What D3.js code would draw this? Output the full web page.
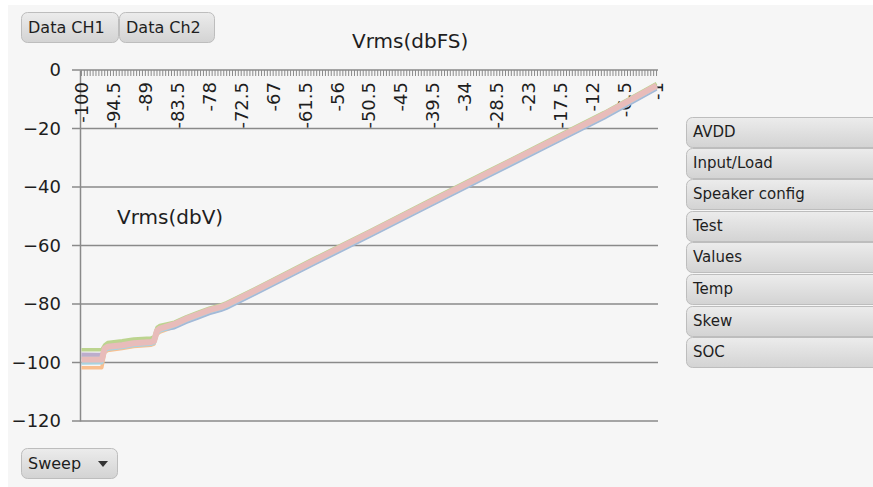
<!DOCTYPE html>
<html>
<head>
<meta charset="utf-8">
<script src="https://cdn.jsdelivr.net/npm/d3@7"></script>
<style>
  html, body { margin: 0; padding: 0; background: #ffffff; }
  svg { display: block; font-family: "DejaVu Sans", Verdana, sans-serif; }
</style>
</head>
<body>
<svg id="chart"></svg>
<script>
const WIDTH = 873;
const HEIGHT = 487;
const PLOT = {left: 80, right: 658, top: 70, bottom: 421};
const GRID_COLOR = '#8a8a8a';
const TEXT_COLOR = '#1e1e1e';

// category axis: Vrms(dbFS) from -100 to -1 in 0.5 steps
const categories = [
  -100,-99.5,-99,-98.5,-98,-97.5,-97,-96.5,-96,-95.5,-95,-94.5,-94,-93.5,-93,-92.5,-92,-91.5,-91,-90.5,
  -90,-89.5,-89,-88.5,-88,-87.5,-87,-86.5,-86,-85.5,-85,-84.5,-84,-83.5,-83,-82.5,-82,-81.5,-81,-80.5,
  -80,-79.5,-79,-78.5,-78,-77.5,-77,-76.5,-76,-75.5,-75,-74.5,-74,-73.5,-73,-72.5,-72,-71.5,-71,-70.5,
  -70,-69.5,-69,-68.5,-68,-67.5,-67,-66.5,-66,-65.5,-65,-64.5,-64,-63.5,-63,-62.5,-62,-61.5,-61,-60.5,
  -60,-59.5,-59,-58.5,-58,-57.5,-57,-56.5,-56,-55.5,-55,-54.5,-54,-53.5,-53,-52.5,-52,-51.5,-51,-50.5,
  -50,-49.5,-49,-48.5,-48,-47.5,-47,-46.5,-46,-45.5,-45,-44.5,-44,-43.5,-43,-42.5,-42,-41.5,-41,-40.5,
  -40,-39.5,-39,-38.5,-38,-37.5,-37,-36.5,-36,-35.5,-35,-34.5,-34,-33.5,-33,-32.5,-32,-31.5,-31,-30.5,
  -30,-29.5,-29,-28.5,-28,-27.5,-27,-26.5,-26,-25.5,-25,-24.5,-24,-23.5,-23,-22.5,-22,-21.5,-21,-20.5,
  -20,-19.5,-19,-18.5,-18,-17.5,-17,-16.5,-16,-15.5,-15,-14.5,-14,-13.5,-13,-12.5,-12,-11.5,-11,-10.5,
  -10,-9.5,-9,-8.5,-8,-7.5,-7,-6.5,-6,-5.5,-5,-4.5,-4,-3.5,-3,-2.5,-2,-1.5,-1
];

const xTickLabels = [-100,-94.5,-89,-83.5,-78,-72.5,-67,-61.5,-56,-50.5,-45,-39.5,-34,-28.5,-23,-17.5,-12,-6.5,-1];
const yTicks = [0,-20,-40,-60,-80,-100,-120];

// points (dbFS -> dbV), one array per trace
const sampleCats = [-100,-96.5,-96,-95.5,-93,-91,-88,-87.5,-87,-86.5,-84,-82,-80,-78,-76,-75,-70,-60,-50,-40,-30,-20,-10,-1];
const orangeVals = [-101.8,-101.8,-96.6,-95.9,-95.2,-94.5,-94.1,-93.7,-90.4,-89.6,-87.8,-86.0,-84.5,-83.0,-81.9,-81.1,-76.2,-66.1,-56.2,-46.1,-36.1,-26.1,-16.1,-6.2];
const blueVals = [-98.3,-98.2,-95.8,-95.2,-94.6,-93.9,-93.5,-93.1,-89.8,-89.0,-88.1,-86.3,-84.8,-83.3,-82.2,-81.4,-76.5,-66.4,-56.5,-46.4,-36.4,-26.4,-16.4,-6.5];
const lightBlueVals = [-100.2,-100.1,-96.2,-95.5,-94.9,-94.2,-93.8,-93.4,-90.1,-89.3,-87.5,-85.7,-84.2,-82.7,-81.6,-80.8,-75.9,-65.8,-55.9,-45.8,-35.8,-25.8,-15.8,-5.9];
const purpleVals = [-97.2,-97.3,-94.5,-93.9,-93.5,-92.9,-92.4,-92.0,-88.8,-88.0,-86.6,-84.8,-83.3,-81.8,-80.7,-79.9,-75.0,-64.9,-55.0,-44.9,-34.9,-24.9,-14.9,-5.0];
const greenVals = [-95.6,-95.6,-94.0,-93.2,-92.6,-92.0,-91.6,-91.2,-88.0,-87.3,-86.2,-84.4,-82.9,-81.4,-80.3,-79.5,-74.6,-64.5,-54.6,-44.5,-34.5,-24.5,-14.5,-4.6];
const pinkVals = [-99.0,-99.0,-95.2,-94.6,-94.1,-93.4,-93.0,-92.6,-89.2,-88.4,-86.9,-85.1,-83.6,-82.1,-81.0,-80.2,-75.3,-65.2,-55.3,-45.2,-35.2,-25.2,-15.2,-5.3];

const series = [
  {values: orangeVals, color: '#f9bf8f', width: 3.5},
  {values: blueVals, color: '#a3b9d8', width: 3.5},
  {values: lightBlueVals, color: '#a9d3df', width: 3.5},
  {values: purpleVals, color: '#bcadcc', width: 3.5},
  {values: greenVals, color: '#bcd48f', width: 3.5},
  {values: pinkVals, color: '#e8bcba', width: 6}
];

const sideButtons = ['AVDD', 'Input/Load', 'Speaker config', 'Test', 'Values', 'Temp', 'Skew', 'SOC'];
const sideButtonTops = [117, 148, 179, 211, 242, 274, 306, 337];

var svg = d3.select('#chart')
  .attr('width', WIDTH)
  .attr('height', HEIGHT);

var defs = svg.append('defs');
var grad = defs.append('linearGradient')
  .attr('id', 'btnGrad')
  .attr('x1', 0).attr('y1', 0).attr('x2', 0).attr('y2', 1);
grad.append('stop').attr('offset', '0%').attr('stop-color', '#ececec');
grad.append('stop').attr('offset', '100%').attr('stop-color', '#d3d3d3');

// pane background
svg.append('rect')
  .attr('x', 8).attr('y', 5)
  .attr('width', WIDTH - 8).attr('height', HEIGHT - 5)
  .attr('fill', '#f6f6f6');

/* scales */
var x = d3.scaleBand()
  .domain(categories)
  .range([PLOT.left, PLOT.right]);

var y = d3.scaleLinear()
  .domain([-120, 0])
  .range([PLOT.bottom, PLOT.top]);

/* horizontal gridlines */
svg.append('g')
  .selectAll('line')
  .data(yTicks)
  .join('line')
  .attr('x1', PLOT.left - 8)
  .attr('x2', PLOT.right)
  .attr('y1', d => y(d))
  .attr('y2', d => y(d))
  .attr('stroke', GRID_COLOR)
  .attr('stroke-width', 1.5);

/* y axis */
var yAxis = svg.append('g')
  .attr('transform', 'translate(' + PLOT.left + ',0)')
  .call(d3.axisLeft(y).tickValues(yTicks).tickSize(0).tickPadding(19));
yAxis.select('.domain')
  .attr('stroke', GRID_COLOR)
  .attr('stroke-width', 1.5);
yAxis.selectAll('text')
  .attr('font-size', '18px')
  .attr('font-family', '"DejaVu Sans", Verdana, sans-serif')
  .attr('fill', TEXT_COLOR);

/* x axis at the top: minor ticks for every category */
var xTicks = svg.append('g')
  .attr('transform', 'translate(0,' + y(0) + ')')
  .call(d3.axisBottom(x).tickSize(6).tickFormat(''));
xTicks.select('.domain').remove();
xTicks.selectAll('line')
  .attr('stroke', GRID_COLOR)
  .attr('stroke-width', 1);

/* x axis labels, rotated */
var xLabels = svg.append('g')
  .attr('transform', 'translate(0,' + y(0) + ')')
  .call(d3.axisBottom(x).tickValues(xTickLabels).tickSize(0).tickFormat(d => String(d)));
xLabels.select('.domain').remove();
xLabels.selectAll('text')
  .attr('font-size', '18px')
  .attr('font-family', '"DejaVu Sans", Verdana, sans-serif')
  .attr('fill', TEXT_COLOR)
  .attr('text-anchor', 'end')
  .attr('transform', 'rotate(-90)')
  .attr('x', -12)
  .attr('y', 0)
  .attr('dy', '0.36em');

/* traces */
var line = d3.line()
  .x((d, i) => x(sampleCats[i]) + x.bandwidth() / 2)
  .y(d => y(d));

series.forEach(s => {
  svg.append('path')
    .datum(s.values)
    .attr('fill', 'none')
    .attr('stroke', s.color)
    .attr('stroke-width', s.width)
    .attr('stroke-linejoin', 'round')
    .attr('d', line);
});

/* titles */
svg.append('text')
  .attr('x', 352).attr('y', 48)
  .attr('font-size', '20px')
  .attr('fill', TEXT_COLOR)
  .text('Vrms(dbFS)');

svg.append('text')
  .attr('x', 117).attr('y', 224)
  .attr('font-size', '20px')
  .attr('fill', TEXT_COLOR)
  .text('Vrms(dbV)');

/* field buttons */
function button(bx, by, bw, bh, label, fontSize) {
  var g = svg.append('g');
  g.append('rect')
    .attr('x', bx + 0.5).attr('y', by + 0.5)
    .attr('width', bw).attr('height', bh)
    .attr('rx', 6)
    .attr('fill', 'url(#btnGrad)')
    .attr('stroke', '#bdbdbd');
  g.append('text')
    .attr('x', bx + 7).attr('y', by + bh / 2)
    .attr('dy', '0.36em')
    .attr('font-size', fontSize)
    .attr('fill', TEXT_COLOR)
    .text(label);
  return g;
}

button(21, 12, 97, 30, 'Data CH1', '16px');
button(119, 12, 95, 30, 'Data Ch2', '16px');

var sweep = button(21, 448, 96, 30, 'Sweep', '16px');
sweep.append('path')
  .attr('d', 'M98,461 L108,461 L103,467 Z')
  .attr('fill', '#333');

sideButtons.forEach((label, i) => {
  button(686, sideButtonTops[i], 200, 30, label, '15px');
});
</script>
</body>
</html>
